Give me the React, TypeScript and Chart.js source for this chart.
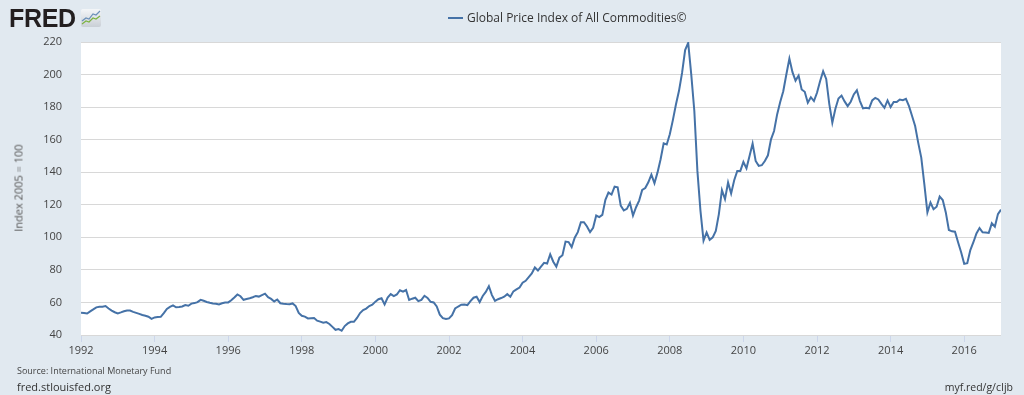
import React, { useEffect, useRef } from 'react';
import { Chart, registerables } from 'chart.js';

Chart.register(...registerables);

const startYear = 1992;
const seriesLabel = 'Global Price Index of All Commodities©';
const yTitle = 'Index 2005 = 100';
const sourceText = 'Source: International Monetary Fund';
const siteText = 'fred.stlouisfed.org';
const linkText = 'myf.red/g/cIjb';

// Monthly values, Jan 1992 .. Jan 2017
const values1992_1997 = [
  53.7, 53.5, 53.2, 54.5, 55.7, 57.0, 57.3, 57.4, 57.8, 56.3, 55.0, 54.0,
  53.3, 53.9, 54.6, 55.1, 55.0, 54.2, 53.6, 53.0, 52.3, 51.8, 51.2, 49.9,
  50.8, 51.0, 51.2, 53.5, 56.0, 57.3, 58.2, 57.0, 57.2, 57.5, 58.4, 58.0,
  59.3, 59.6, 60.2, 61.6, 61.0, 60.3, 59.8, 59.4, 59.2, 58.8, 59.5, 59.9,
  60.0, 61.3, 63.0, 64.9, 63.8, 61.6, 62.1, 62.6, 63.2, 64.0, 63.6, 64.5,
  65.4, 63.2, 62.2, 60.6, 61.8, 59.5, 59.2, 59.0, 58.9, 59.4, 57.8, 53.5,
];
const values1998_2003 = [
  51.8, 51.3, 50.2, 50.3, 50.4, 48.8, 48.2, 47.5, 47.9, 46.8, 45.0, 43.2,
  43.6, 42.6, 45.5, 47.1, 48.1, 48.1, 50.5, 53.5, 55.3, 56.2, 57.8, 58.6,
  60.5, 62.0, 62.6, 58.8, 63.0, 65.1, 63.9, 64.9, 67.5, 66.6, 67.6, 61.5,
  62.3, 62.9, 60.8, 61.6, 64.1, 62.8, 60.4, 60.0, 57.5, 52.5, 50.3, 49.8,
  50.2, 52.2, 56.3, 57.5, 58.6, 58.8, 58.4, 60.8, 62.9, 63.5, 60.2, 64.0,
  66.5, 70.0, 64.5, 61.0, 62.0, 62.7, 63.5, 65.1, 63.5, 66.8, 68.0, 69.2,
];
const values2004_2009 = [
  72.1, 73.3, 75.5, 77.8, 81.5, 79.6, 82.0, 84.3, 83.9, 89.6, 85.0, 82.0,
  87.5, 89.0, 97.4, 97.1, 94.0, 99.8, 103.2, 109.3, 109.3, 106.7, 103.2, 105.9,
  113.4, 112.4, 113.8, 123.0, 127.5, 126.3, 131.1, 130.7, 119.5, 116.5, 117.5, 121.2,
  113.4, 118.5, 122.6, 129.1, 130.3, 133.8, 138.5, 133.2, 139.9, 148.0, 157.7, 157.0,
  163.3, 172.0, 181.6, 190.0, 201.0, 215.0, 219.5, 200.0, 177.6, 140.8, 116.3, 98.0,
  103.0, 98.4, 100.0, 104.0, 114.3, 129.0, 123.5, 133.7, 126.9, 135.1, 140.8, 140.8,
];
const values2010_2017 = [
  146.3, 142.4, 150.0, 157.6, 146.9, 143.9, 144.3, 146.9, 150.4, 160.2, 165.3, 175.5,
  183.1, 189.8, 200.0, 209.8, 201.5, 196.3, 199.4, 190.8, 189.4, 182.7, 186.1, 183.7,
  188.8, 195.9, 202.0, 197.3, 182.0, 170.4, 179.0, 185.3, 187.1, 183.5, 180.6, 183.3,
  187.8, 190.4, 183.7, 179.2, 179.6, 179.2, 184.1, 185.7, 184.7, 182.0, 179.6, 184.1,
  180.0, 183.1, 183.1, 184.7, 184.3, 185.1, 180.6, 174.5, 168.4, 158.2, 149.0, 132.7,
  115.3, 121.4, 117.3, 118.8, 125.1, 122.9, 115.3, 104.5, 103.7, 103.5, 97.0, 90.8,
  83.7, 84.1, 92.2, 97.0, 102.4, 105.7, 103.1, 102.9, 102.7, 108.6, 106.5, 114.3,
  117.0,
];
const values = [...values1992_1997, ...values1998_2003, ...values2004_2009, ...values2010_2017];

const xTicks = [1992, 1994, 1996, 1998, 2000, 2002, 2004, 2006, 2008, 2010, 2012, 2014, 2016];
const yTicks = [40, 60, 80, 100, 120, 140, 160, 180, 200, 220];

const FONT = "'Open Sans', 'DejaVu Sans', sans-serif";
const LINE_COLOR = '#4572a7';
const TEXT_COLOR = '#444444';

const plotBg = {
  id: 'plotBg',
  beforeDraw(chart: any) {
    const { ctx, chartArea } = chart;
    ctx.save();
    ctx.fillStyle = '#ffffff';
    ctx.fillRect(chartArea.left, chartArea.top, chartArea.right - chartArea.left, chartArea.bottom - chartArea.top);
    ctx.restore();
  },
};

export default function App() {
  const ref = useRef<HTMLCanvasElement>(null);

  useEffect(() => {
    document.body.style.margin = '0';
    const chart = new Chart(ref.current as HTMLCanvasElement, {
      type: 'line',
      data: {
        datasets: [
          {
            label: seriesLabel,
            data: values.map((v, i) => ({ x: startYear + i / 12, y: v })),
            borderColor: LINE_COLOR,
            borderWidth: 2,
            pointRadius: 0,
            tension: 0,
            fill: false,
          },
        ],
      },
      options: {
        animation: false,
        responsive: false,
        devicePixelRatio: 1,
        layout: { padding: { top: 42, right: 23, left: 0, bottom: 0 } },
        plugins: { legend: { display: false }, tooltip: { enabled: false } },
        scales: {
          x: {
            type: 'linear',
            min: startYear,
            max: startYear + (values.length - 1) / 12,
            afterBuildTicks: (s: any) => {
              s.ticks = xTicks.map((v) => ({ value: v }));
            },
            afterFit: (s: any) => {
              s.height = 60;
            },
            grid: { drawOnChartArea: false, drawTicks: true, tickLength: 7, color: '#ccd6eb' },
            border: { display: false },
            ticks: {
              padding: 2,
              color: TEXT_COLOR,
              font: { family: FONT, size: 11 },
              maxRotation: 0,
              autoSkip: false,
              callback: (v: any) => String(v),
            },
          },
          y: {
            min: 40,
            max: 220,
            afterBuildTicks: (s: any) => {
              s.ticks = yTicks.map((v) => ({ value: v }));
            },
            afterFit: (s: any) => {
              s.width = 81;
            },
            grid: { color: '#d8d8d8', drawTicks: false },
            border: { display: false },
            ticks: {
              padding: 19,
              color: TEXT_COLOR,
              font: { family: FONT, size: 11 },
              callback: (v: any) => String(v),
            },
          },
        },
      },
      plugins: [plotBg],
    } as any);
    return () => chart.destroy();
  }, []);

  return (
    <div style={{ position: 'absolute', left: 0, top: 0, width: 1024, height: 395, background: '#e1e9f0', overflow: 'hidden', fontFamily: FONT }}>
      <canvas ref={ref} width={1024} height={395} style={{ position: 'absolute', left: 0, top: 0, display: 'block' }} />
      <div style={{ position: 'absolute', left: 9, top: 3, fontFamily: "'Liberation Sans', Arial, sans-serif", fontWeight: 700, fontSize: 25, letterSpacing: -0.3, color: '#231f20', lineHeight: '30px' }}>FRED</div>
      <svg style={{ position: 'absolute', left: 81, top: 9 }} width={20} height={18} viewBox="0 0 20 18">
        <defs>
          <linearGradient id="ig" x1="0" y1="0" x2="0" y2="1">
            <stop offset="0" stopColor="#f4f6f8" />
            <stop offset="1" stopColor="#c9cfd6" />
          </linearGradient>
        </defs>
        <rect x="0" y="0" width="20" height="18" rx="2" fill="url(#ig)" />
        <polyline points="1,12 5,9 8,10 12,5 15,6 19,2" fill="none" stroke="#6a8fb8" strokeWidth="1.2" />
        <polyline points="1,15 5,12 8,13 12,9 15,10 19,7" fill="none" stroke="#7cb342" strokeWidth="1.2" />
      </svg>
      <div style={{ position: 'absolute', left: 448, top: 17, width: 15, height: 2, background: LINE_COLOR }} />
      <div style={{ position: 'absolute', left: 467, top: 10, fontSize: 12, lineHeight: '16px', color: '#333333', whiteSpace: 'nowrap' }}>{seriesLabel}</div>
      <div style={{ position: 'absolute', left: 18, top: 188, transform: 'translate(-50%, -50%) rotate(-90deg)', fontSize: 11, fontWeight: 400, color: '#555555', whiteSpace: 'nowrap' }}>{yTitle}</div>
      <div style={{ position: 'absolute', left: 17, top: 365, fontSize: 9, lineHeight: '12px', color: '#444444', whiteSpace: 'nowrap' }}>{sourceText}</div>
      <div style={{ position: 'absolute', left: 17, top: 380, fontSize: 11, lineHeight: '14px', color: '#333333', whiteSpace: 'nowrap' }}>{siteText}</div>
      <div style={{ position: 'absolute', right: 11, top: 380, fontSize: 10.5, lineHeight: '14px', color: '#333333', whiteSpace: 'nowrap' }}>{linkText}</div>
    </div>
  );
}
